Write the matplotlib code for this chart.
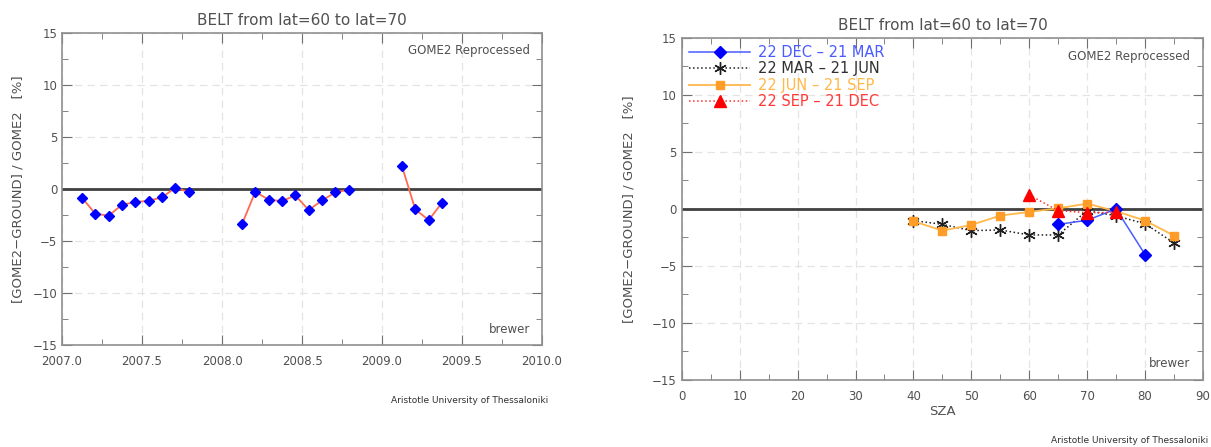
import numpy as np
import matplotlib.pyplot as plt
from matplotlib.ticker import MultipleLocator

# Monthly relative differences, brewer stations in the 60-70 latitude belt
years_2007 = [2007.125, 2007.208, 2007.292, 2007.375, 2007.458, 2007.542, 2007.625, 2007.708, 2007.792]
diff_2007 = [-0.83, -2.37, -2.56, -1.50, -1.25, -1.12, -0.80, 0.13, -0.29]
years_2008 = [2008.125, 2008.208, 2008.292, 2008.375, 2008.458, 2008.542, 2008.625, 2008.708, 2008.792]
diff_2008 = [-3.37, -0.26, -1.03, -1.15, -0.61, -2.02, -1.09, -0.32, -0.06]
years_2009 = [2009.125, 2009.208, 2009.292, 2009.375]
diff_2009 = [2.18, -1.96, -2.98, -1.31]

# Seasonal differences against solar zenith angle
sza_dec_mar = [65, 70, 75, 80]
val_dec_mar = [-1.35, -0.99, 0.0, -4.0]
sza_mar_jun = [40, 45, 50, 55, 60, 65, 70, 75, 80, 85]
val_mar_jun = [-1.02, -1.35, -1.90, -1.84, -2.28, -2.28, -0.15, -0.60, -1.30, -2.98]
sza_jun_sep = [40, 45, 50, 55, 60, 65, 70, 75, 80, 85]
val_jun_sep = [-1.08, -1.90, -1.40, -0.58, -0.26, 0.06, 0.47, -0.20, -1.02, -2.34]
sza_sep_dec = [60, 65, 70, 75]
val_sep_dec = [1.23, -0.15, -0.32, -0.30]

TXT = '#505050'
plt.rcParams['font.family'] = 'DejaVu Sans'
plt.rcParams['text.color'] = TXT
plt.rcParams['xtick.color'] = TXT
plt.rcParams['ytick.color'] = TXT

fig = plt.figure(figsize=(12.11, 4.47), dpi=100)
ax1 = fig.add_axes([0.0512, 0.228, 0.3964, 0.698])
ax2 = fig.add_axes([0.563, 0.150, 0.4304, 0.765])


def style(ax, xmaj, xmin):
    ax.set_ylim(-15, 15)
    ax.xaxis.set_major_locator(MultipleLocator(xmaj))
    ax.xaxis.set_minor_locator(MultipleLocator(xmin))
    ax.yaxis.set_major_locator(MultipleLocator(5))
    ax.yaxis.set_minor_locator(MultipleLocator(2.5))
    ax.tick_params(which='both', direction='in', top=True, right=True,
                   labelsize=8.5, color='#707070')
    ax.tick_params(which='major', length=7)
    ax.tick_params(which='minor', length=4)
    ax.tick_params(axis='x', pad=7)
    for s in ax.spines.values():
        s.set_color('#909090')
        s.set_linewidth(1.2)
    ax.grid(True, which='major', color='#e4e4e4', linestyle=(0, (6, 4)), linewidth=0.9)
    ax.axhline(0, color='#404040', linewidth=2.0, zorder=2)
    ax.set_ylabel('[GOME2\u2212GROUND] / GOME2   [%]', fontsize=9.5, color=TXT)
    ax.set_title('BELT from lat=60 to lat=70', fontsize=11, color=TXT, pad=6)
    ax.text(0.975, 0.965, 'GOME2 Reprocessed', transform=ax.transAxes,
            ha='right', va='top', fontsize=8.5)
    ax.text(0.975, 0.03, 'brewer', transform=ax.transAxes,
            ha='right', va='bottom', fontsize=8.5)


# Time series panel
style(ax1, 0.5, 0.25)
ax1.set_xlim(2007.0, 2010.0)
ax1.xaxis.set_major_formatter(lambda v, p: f'{v:.1f}')
for xs, ys in ((years_2007, diff_2007), (years_2008, diff_2008), (years_2009, diff_2009)):
    ax1.plot(xs, ys, color='#ff6a50', linewidth=1.3, zorder=3)
    ax1.plot(xs, ys, linestyle='none', marker='D', markersize=5,
             color='#0000ff', zorder=4)
ax1.yaxis.labelpad = 6
fig.text(0.453, 0.098, 'Aristotle University of Thessaloniki', fontsize=6.5,
         ha='right', color='#303030')

# SZA panel
style(ax2, 10, 5)
ax2.set_xlim(0, 90)
ax2.set_xlabel('SZA', fontsize=9.5, color=TXT, labelpad=2)
ax2.yaxis.labelpad = 12
ax2.plot(sza_dec_mar, val_dec_mar, color='#4a5cff', linewidth=1.1, marker='D',
         markersize=6, markerfacecolor='#0000ff', markeredgecolor='#0000ff',
         label='22 DEC \u2013 21 MAR', zorder=4)
ax2.plot(sza_mar_jun, val_mar_jun, color='#202020', linestyle=':', linewidth=1.1,
         marker=(6, 2, 0), markersize=9, markeredgewidth=1.0,
         label='22 MAR \u2013 21 JUN', zorder=3)
ax2.plot(sza_jun_sep, val_jun_sep, color='#ffb84a', linewidth=1.3, marker='s',
         markersize=5.5, markerfacecolor='#ff9d28', markeredgecolor='#ff9d28',
         label='22 JUN \u2013 21 SEP', zorder=3)
ax2.plot(sza_sep_dec, val_sep_dec, color='#ff3030', linestyle=':', linewidth=1.1,
         marker='^', markersize=8, markerfacecolor='#ff0000', markeredgecolor='#ff0000',
         label='22 SEP \u2013 21 DEC', zorder=5)
leg = ax2.legend(loc='upper left', bbox_to_anchor=(0.0, 1.0), frameon=False,
                 fontsize=10.5, handlelength=4.2, handletextpad=0.5,
                 labelspacing=0.08, borderaxespad=0.1)
for txt, col in zip(leg.get_texts(), ['#4a5cff', '#303030', '#ffb84a', '#ff3a3a']):
    txt.set_color(col)
fig.text(0.998, 0.005, 'Aristotle University of Thessaloniki', fontsize=6.5,
         ha='right', va='bottom', color='#303030')

fig.savefig('out.png', dpi=100)
